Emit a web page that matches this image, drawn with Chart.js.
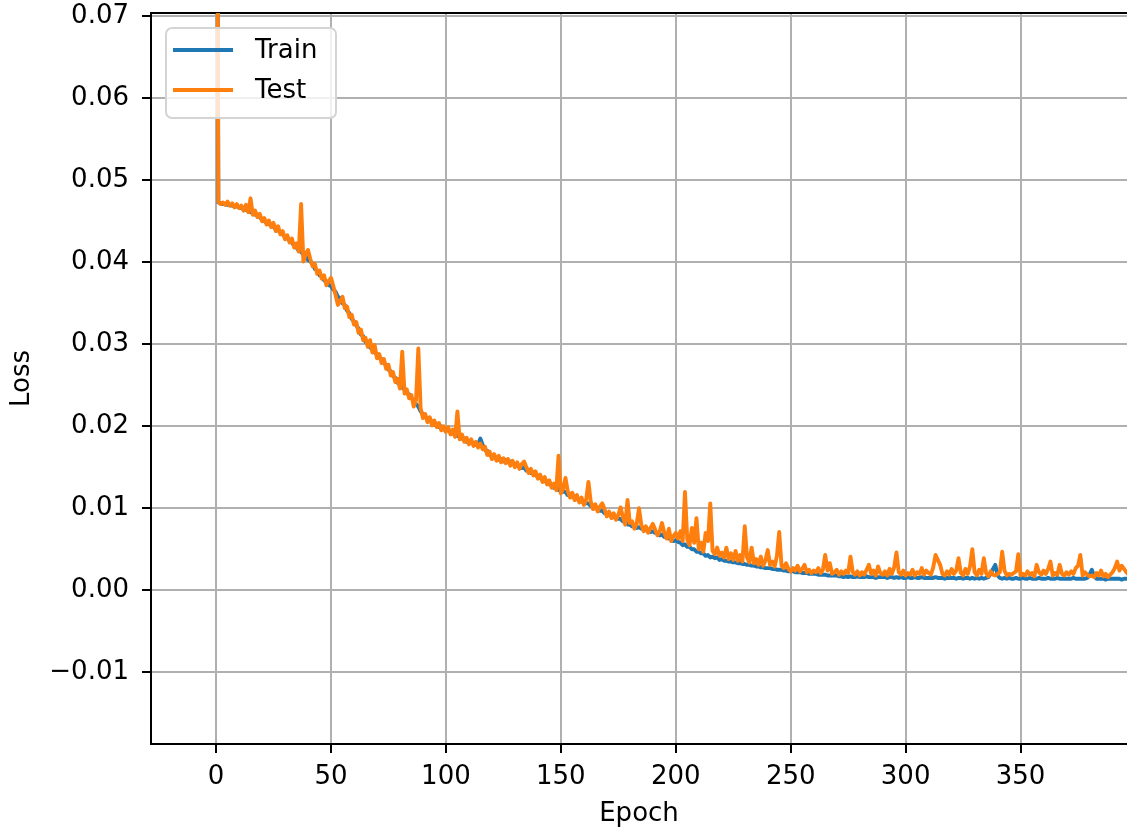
<!DOCTYPE html>
<html><head><meta charset="utf-8">
<script src="https://cdn.jsdelivr.net/npm/chart.js@4/dist/chart.umd.min.js"></script>
<style>html,body{margin:0;padding:0;background:#fff;}canvas{display:block;}</style>
</head><body>
<canvas id="c" width="1127" height="835"></canvas>
<script>
// ---- data ----
const epochs = Array.from({length: 400}, (_, i) => i);
const seriesNames = ['Train', 'Test'];
const trainLoss = [
0.15,
.0473,.0472,.0471,.0471,.0470,.0470,.0469,.0468,.0468,.0467,
.0466,.0465,.0464,.0463,.0461,.0460,.0458,.0457,.0455,.0452,
.0450,.0448,.0447,.0444,.0443,.0440,.0439,.0436,.0434,.0431,
.0429,.0426,.0424,.0420,.0418,.0414,.0413,.0409,.0407,.0403,
.0401,.0398,.0392,.0390,.0384,.0383,.0378,.0377,.0372,.0371,
.0367,.0364,.0358,.0356,.0350,.0348,.0341,.0338,.0331,.0328,
.0323,.0319,.0312,.0310,.0303,.0301,.0296,.0295,.0290,.0288,
.0284,.0282,.0277,.0275,.0269,.0267,.0261,.0259,.0253,.0251,
.0247,.0245,.0240,.0239,.0234,.0232,.0227,.0224,.0218,.0215,
.0211,.0210,.0206,.0206,.0202,.0203,.0199,.0200,.0196,.0197,
.0195,.0194,.0191,.0191,.0188,.0188,.0185,.0185,.0181,.0182,
.0180,.0180,.0177,.0178,.0185,.0177,.0171,.0170,.0165,.0164,
.0162,.0162,.0159,.0160,.0157,.0159,.0156,.0157,.0154,.0154,
.0152,.0152,.0149,.0150,.0146,.0147,.0143,.0144,.0140,.0140,
.0137,.0136,.0133,.0133,.0129,.0129,.0125,.0126,.0122,.0122,
.0120,.0120,.0116,.0117,.0114,.0114,.0111,.0111,.0108,.0108,
.0106,.0106,.0103,.0103,.0100,.0100,.0097,.0097,.0094,.0094,
.0092,.0092,.0089,.0090,.0087,.0087,.0084,.0084,.0080,.0080,
.0078,.0079,.0076,.0077,.0075,.0076,.0073,.0074,.0071,.0072,
.0070,.0070,.0067,.0068,.0065,.0066,.0063,.0063,.0060,.0061,
.0059,.0058,.0055,.0056,.0053,.0053,.0050,.0050,.0047,.0047,
.0045,.0045,.0042,.0043,.0040,.0041,.0039,.0040,.0037,.0038,
.0036,.0036,.0035,.0035,.0034,.0034,.0033,.0033,.0032,.0032,
.0031,.0031,.0030,.0030,.0029,.0029,.0028,.0028,.0027,.0027,
.0027,.0026,.0026,.0025,.0025,.0025,.0024,.0024,.0023,.0023,
.0023,.0022,.0022,.0022,.0021,.0021,.0021,.0020,.0020,.0020,
.0020,.0019,.0019,.0019,.0019,.0018,.0018,.0018,.0018,.0018,
.0017,.0017,.0016,.0017,.0016,.0017,.0016,.0016,.0017,.0016,
.0016,.0016,.0017,.0016,.0016,.0016,.0015,.0016,.0016,.0016,
.0016,.0015,.0016,.0016,.0015,.0016,.0015,.0016,.0015,.0015,
.0016,.0015,.0015,.0016,.0015,.0015,.0016,.0015,.0015,.0015,
.0015,.0015,.0016,.0015,.0015,.0015,.0014,.0015,.0015,.0015,
.0015,.0014,.0015,.0015,.0014,.0015,.0015,.0014,.0015,.0014,
.0015,.0014,.0015,.0014,.0015,.0016,.0020,.0026,.0031,.0018,
.0015,.0014,.0015,.0014,.0015,.0014,.0014,.0015,.0014,.0014,
.0015,.0014,.0014,.0015,.0014,.0014,.0014,.0015,.0014,.0014,
.0014,.0015,.0014,.0014,.0014,.0015,.0014,.0014,.0014,.0014,
.0014,.0014,.0015,.0014,.0014,.0014,.0014,.0014,.0015,.0019,
.0025,.0017,.0014,.0014,.0014,.0014,.0013,.0014,.0014,.0014,
.0014,.0014,.0014,.0013,.0014,.0014,.0014,.0014,.0014
];
const testLoss = [
0.14,
.0474,.0471,.0473,.0470,.0474,.0469,.0472,.0467,.0471,.0466,
.0469,.0463,.0470,.0461,.0478,.0458,.0463,.0455,.0459,.0450,
.0454,.0446,.0451,.0443,.0448,.0438,.0444,.0434,.0438,.0428,
.0433,.0424,.0429,.0418,.0423,.0413,.0471,.0401,.0410,.0415,
.0404,.0395,.0398,.0386,.0390,.0380,.0384,.0372,.0377,.0381,
.0371,.0360,.0348,.0352,.0358,.0344,.0346,.0333,.0336,.0324,
.0327,.0314,.0318,.0305,.0308,.0297,.0305,.0290,.0299,.0283,
.0288,.0277,.0282,.0270,.0275,.0262,.0266,.0254,.0258,.0246,
.0291,.0240,.0245,.0234,.0238,.0224,.0232,.0295,.0222,.0210,
.0215,.0205,.0211,.0201,.0207,.0199,.0204,.0195,.0200,.0193,
.0199,.0190,.0196,.0187,.0218,.0184,.0190,.0181,.0186,.0178,
.0184,.0176,.0181,.0174,.0179,.0172,.0175,.0165,.0169,.0160,
.0166,.0158,.0164,.0156,.0161,.0155,.0160,.0152,.0158,.0150,
.0156,.0148,.0154,.0157,.0150,.0143,.0148,.0140,.0145,.0136,
.0141,.0132,.0138,.0129,.0134,.0125,.0130,.0122,.0164,.0118,
.0124,.0137,.0121,.0113,.0119,.0110,.0116,.0107,.0113,.0104,
.0110,.0132,.0108,.0099,.0105,.0096,.0102,.0106,.0099,.0090,
.0096,.0088,.0094,.0086,.0092,.0101,.0089,.0080,.0110,.0082,
.0084,.0075,.0081,.0100,.0080,.0072,.0078,.0070,.0076,.0081,
.0074,.0067,.0072,.0082,.0070,.0063,.0075,.0060,.0066,.0070,
.0063,.0072,.0060,.0120,.0062,.0055,.0076,.0058,.0088,.0050,
.0058,.0047,.0070,.0060,.0106,.0048,.0044,.0052,.0042,.0046,
.0040,.0052,.0038,.0045,.0037,.0048,.0036,.0043,.0035,.0078,
.0040,.0034,.0052,.0033,.0038,.0031,.0041,.0030,.0036,.0049,
.0031,.0035,.0029,.0042,.0071,.0030,.0027,.0033,.0026,.0023,
.0027,.0024,.0030,.0023,.0026,.0031,.0022,.0025,.0021,.0024,
.0022,.0027,.0021,.0025,.0043,.0024,.0033,.0020,.0022,.0025,
.0019,.0023,.0020,.0024,.0021,.0041,.0022,.0019,.0023,.0018,
.0022,.0019,.0025,.0031,.0020,.0024,.0018,.0029,.0021,.0019,
.0023,.0018,.0026,.0020,.0028,.0046,.0022,.0019,.0024,.0018,
.0021,.0019,.0025,.0018,.0022,.0020,.0027,.0019,.0024,.0021,
.0019,.0028,.0043,.0037,.0031,.0020,.0018,.0023,.0019,.0026,
.0020,.0024,.0039,.0021,.0018,.0026,.0020,.0029,.0050,.0022,
.0018,.0025,.0020,.0039,.0021,.0017,.0023,.0019,.0018,.0020,
.0022,.0047,.0024,.0018,.0020,.0019,.0021,.0023,.0044,.0018,
.0020,.0018,.0023,.0019,.0021,.0017,.0031,.0022,.0019,.0024,
.0020,.0026,.0035,.0018,.0021,.0019,.0031,.0020,.0018,.0022,
.0019,.0023,.0020,.0027,.0030,.0043,.0018,.0022,.0019,.0017,
.0018,.0016,.0021,.0018,.0024,.0017,.0020,.0016,.0019,.0022,
.0027,.0035,.0024,.0030,.0026,.0022,.0019,.0025,.0021
];
const xRange = [-28.3, 396.3];
const yRange = [-0.01875, 0.0704];
const xTickStep = 50;
const yTickStep = 0.01;
const xTitle = 'Epoch';
const yTitle = 'Loss';

// ---- style ----
const FONT = 'DejaVu Sans';
const FS = 26;
Chart.defaults.font.family = FONT;
Chart.defaults.font.size = FS;
Chart.defaults.color = '#000';

const legendBox = {
  id: 'legendBox',
  afterDatasetsDraw(chart) {
    const {ctx, chartArea} = chart;
    const x = chartArea.left + 15, y = chartArea.top + 15, w = 170, h = 90;
    ctx.save();
    ctx.beginPath();
    ctx.roundRect(x, y, w, h, 6);
    ctx.fillStyle = 'rgba(255,255,255,0.8)';
    ctx.fill();
    ctx.lineWidth = 2;
    ctx.strokeStyle = '#d4d4d4';
    ctx.stroke();
    seriesNames.forEach((name, i) => {
      const ds = chart.data.datasets.find(d => d.label === name);
      const ly = y + 22 + i * 40;
      ctx.beginPath();
      ctx.moveTo(x + 7, ly);
      ctx.lineTo(x + 67, ly);
      ctx.strokeStyle = ds.borderColor;
      ctx.lineWidth = 3.9;
      ctx.lineCap = 'butt';
      ctx.stroke();
      ctx.fillStyle = '#000';
      ctx.font = FS + 'px "' + FONT + '"';
      ctx.textBaseline = 'middle';
      ctx.textAlign = 'left';
      ctx.fillText(name, x + 89, ly + 1);
    });
    ctx.restore();
  }
};

const fmtY = v => {
  const s = (Math.abs(v) < 1e-9 ? 0 : v).toFixed(2);
  return s.replace('-', '\u2212');
};

new Chart(document.getElementById('c'), {
  type: 'line',
  data: {
    labels: epochs,
    datasets: [
      {label: seriesNames[0], data: trainLoss, borderColor: '#1f77b4', borderWidth: 3.9, order: 1,
       pointRadius: 0, tension: 0, fill: false, borderJoinStyle: 'round'},
      {label: seriesNames[1], data: testLoss, borderColor: '#ff7f0e', borderWidth: 3.9, order: 0,
       pointRadius: 0, tension: 0, fill: false, borderJoinStyle: 'round'}
    ]
  },
  options: {
    responsive: false,
    animation: false,
    devicePixelRatio: 1,
    layout: {padding: {top: 13, left: 0, right: 0, bottom: 0}},
    plugins: {legend: {display: false}, tooltip: {enabled: false}},
    scales: {
      x: {
        type: 'linear', position: 'bottom', min: xRange[0], max: xRange[1],
        grid: {color: '#b0b0b0', lineWidth: 2, tickColor: '#000', tickWidth: 2, tickLength: 9, drawTicks: true},
        border: {display: true, color: '#000', width: 2},
        ticks: {stepSize: xTickStep, includeBounds: false, padding: 9, maxRotation: 0, autoSkip: false,
                callback: v => String(v)},
        title: {display: true, text: xTitle, padding: {top: 0, bottom: 5}},
        afterFit: s => { s.height = 91; s.paddingLeft = 0; s.paddingRight = 0; }
      },
      x2: {
        type: 'linear', position: 'top', min: xRange[0], max: xRange[1],
        grid: {display: true, drawTicks: false, color: 'rgba(0,0,0,0)'},
        border: {display: true, color: '#000', width: 2},
        ticks: {display: false},
        afterFit: s => { s.height = 0; s.paddingLeft = 0; s.paddingRight = 0; }
      },
      y: {
        type: 'linear', position: 'left', min: yRange[0], max: yRange[1],
        grid: {color: '#b0b0b0', lineWidth: 2, tickColor: '#000', tickWidth: 2, tickLength: 9, drawTicks: true},
        border: {display: true, color: '#000', width: 2},
        ticks: {stepSize: yTickStep, includeBounds: false, padding: 13, autoSkip: false, callback: v => fmtY(v)},
        title: {display: true, text: yTitle, padding: {top: 7, bottom: 0}},
        afterFit: s => { s.width = 151; s.paddingTop = 0; s.paddingBottom = 0; }
      }
    }
  },
  plugins: [legendBox]
});
</script>
</body></html>
